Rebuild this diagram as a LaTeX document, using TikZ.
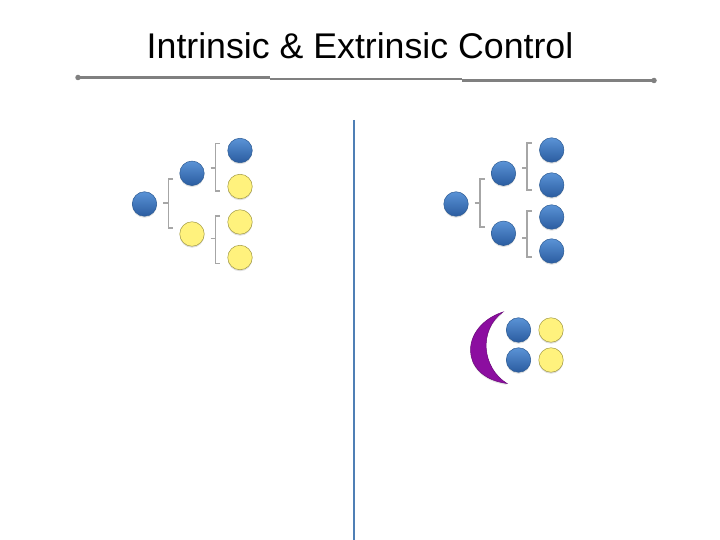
\documentclass[tikz,border=0pt]{standalone}
\usepackage{fontspec}
\setmainfont{Liberation Sans}
\usetikzlibrary{calc,shadows}
\definecolor{ballblueT}{HTML}{5B93D6}
\definecolor{ballblueB}{HTML}{2A5CA0}
\definecolor{ballblueD}{HTML}{2D5C95}
\definecolor{ballyel}{HTML}{FFF27D}
\definecolor{ballyelD}{HTML}{A39B45}
\definecolor{rulegray}{HTML}{808080}
\definecolor{brkgray}{HTML}{A6A6A6}
\definecolor{vline}{HTML}{4F7FB5}
\definecolor{moon}{HTML}{8C0EA0}
\definecolor{moonD}{HTML}{6A0A7A}
\begin{document}
\begin{tikzpicture}[x=1pt,y=-1pt,
  ballbase/.style={circle,minimum size=24.5pt,inner sep=0pt,line width=0.5pt,
    drop shadow={opacity=0.25,shadow xshift=0pt,shadow yshift=-1.5pt}},
  bball/.style={ballbase,draw=ballblueD,top color=ballblueT,bottom color=ballblueB},
  yball/.style={ballbase,draw=ballyelD,fill=ballyel},
  brk/.style={draw=brkgray,line width=1.7pt},
  rule/.style={draw=rulegray,line width=2.8pt},
  enddot/.style={circle,fill=rulegray,inner sep=0pt,minimum size=5.5pt}]
\useasboundingbox (0,0) rectangle (720,540);
% title
\node[anchor=base,font=\fontsize{35.7}{40}\selectfont] (title) at (360,58.5) {Intrinsic \& Extrinsic Control};
% rule under title
\node[enddot] (rl) at (78,77.5) {};
\node[enddot] (rr) at (654,80.5) {};
\coordinate (s1) at (270,77.5);
\coordinate (s2) at (462,79);
\draw[rule] (rl.center) -- (s1) (s1 |- s2) -- (s2) (s2 |- rr) -- (rr.center);
% vertical divider
\coordinate (vt) at (354,120);
\coordinate (vb) at (354,540);
\draw[draw=vline,line width=2.8pt] (vt) -- (vb);

% ---------- left tree ----------
\node[bball] (L0) at (144.5,204) {};
\node[bball] (L1) at (192,173.3) {};
\node[yball] (L2) at (192,234) {};
\node[bball] (L3) at (240,150.5) {};
\node[yball] (L4) at (240,186.5) {};
\node[yball] (L5) at (240,222) {};
\node[yball] (L6) at (240,257.5) {};
% brackets
\draw[brk] ($(L0.east)+(6,-1)$) -- ++(4.5,0);
\draw[brk] ($(L1.west)+(-6.5,6)$) -- ++(-4.5,0) |- ($(L2.west)+(-6.5,-6)$);
\draw[brk] ($(L1.east)+(6,-5.5)$) -- ++(4.5,0);
\draw[brk] ($(L3.west)+(-7.5,-7)$) -- ++(-4.5,0) |- ($(L4.west)+(-7.5,4.5)$);
\draw[brk] ($(L2.east)+(6,4.5)$) -- ++(4.5,0);
\draw[brk] ($(L5.west)+(-7.5,-6)$) -- ++(-4.5,0) |- ($(L6.west)+(-7.5,6)$);

% ---------- right tree ----------
\node[bball] (R0) at (456,204) {};
\node[bball] (R1) at (503.5,173.3) {};
\node[bball] (R2) at (503.5,233.3) {};
\node[bball] (R3) at (551.7,150) {};
\node[bball] (R4) at (551.7,185) {};
\node[bball] (R5) at (551.7,217) {};
\node[bball] (R6) at (551.7,251) {};
\draw[brk] ($(R0.east)+(6,-1)$) -- ++(4.5,0);
\draw[brk] ($(R1.west)+(-6.5,6)$) -- ++(-4.5,0) |- ($(R2.west)+(-6.5,-6)$);
\draw[brk] ($(R1.east)+(6,-5.5)$) -- ++(4.5,0);
\draw[brk] ($(R3.west)+(-7.5,-7)$) -- ++(-4.5,0) |- ($(R4.west)+(-7.5,5)$);
\draw[brk] ($(R2.east)+(6,4.5)$) -- ++(4.5,0);
\draw[brk] ($(R5.west)+(-7.5,-6)$) -- ++(-4.5,0) |- ($(R6.west)+(-7.5,6)$);

% ---------- crescent and four balls ----------
\coordinate (mt) at (503,312);
\coordinate (mb) at (507,383.5);
\fill[moon,draw=moonD,line width=0.5pt,drop shadow={opacity=0.2,shadow xshift=0pt,shadow yshift=-1.5pt}]
  (mt) .. controls (460,326) and (458,377) .. (mb)
       .. controls (482,368) and (478,330) .. (mt) -- cycle;
\node[bball] (Q1) at (518.5,330) {};
\node[bball] (Q2) at (518.5,360) {};
\node[yball] (Q3) at (551,330) {};
\node[yball] (Q4) at (551,360) {};
\end{tikzpicture}
\end{document}
